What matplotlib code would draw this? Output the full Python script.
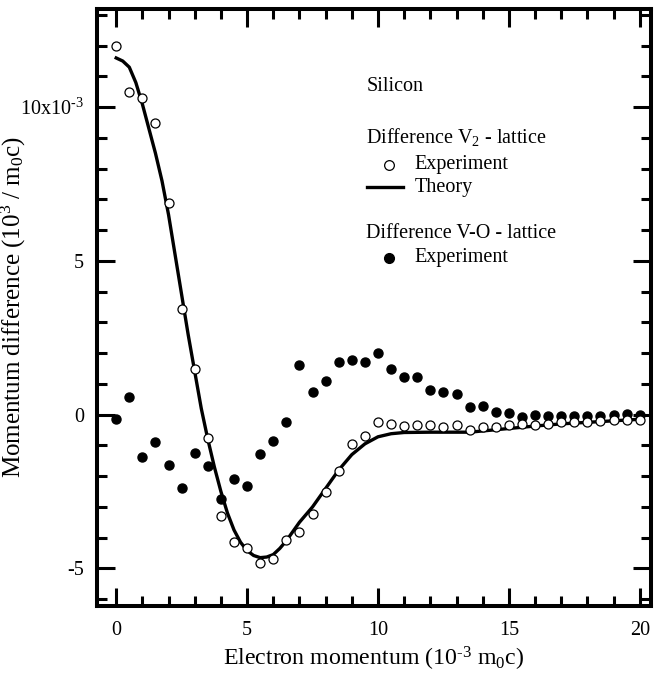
import numpy as np
import matplotlib
matplotlib.use('Agg')
import matplotlib.pyplot as plt
from matplotlib.ticker import MultipleLocator, FixedLocator, FixedFormatter

plt.rcParams['font.family'] = ['Liberation Serif', 'DejaVu Serif']
plt.rcParams['mathtext.fontset'] = 'custom'
plt.rcParams['mathtext.rm'] = 'Liberation Serif'
plt.rcParams['mathtext.it'] = 'Liberation Serif:italic'
plt.rcParams['axes.unicode_minus'] = False

# V2 - lattice, experiment (open circles)
x_v2 = [0, 0.5, 1, 1.5, 2, 2.5, 3, 3.5, 4, 4.5, 5, 5.5, 6, 6.5, 7, 7.5, 8, 8.5, 9, 9.5,
        10, 10.5, 11, 11.5, 12, 12.5, 13, 13.5, 14, 14.5, 15, 15.5, 16, 16.5, 17, 17.5,
        18, 18.5, 19, 19.5, 20]
y_v2 = [12.0, 10.5, 10.3, 9.5, 6.87, 3.42, 1.5, -0.75, -3.29, -4.14, -4.33, -4.82, -4.69,
        -4.07, -3.81, -3.22, -2.5, -1.82, -0.95, -0.68, -0.25, -0.3, -0.36, -0.35, -0.33,
        -0.41, -0.35, -0.51, -0.41, -0.41, -0.35, -0.3, -0.32, -0.3, -0.23, -0.23, -0.23,
        -0.2, -0.16, -0.16, -0.16]

# V-O - lattice, experiment (filled circles)
x_vo = x_v2
y_vo = [-0.13, 0.59, -1.39, -0.89, -1.65, -2.37, -1.25, -1.68, -2.73, -2.08, -2.31, -1.28,
        -0.87, -0.23, 1.6, 0.75, 1.08, 1.72, 1.77, 1.72, 2.02, 1.5, 1.24, 1.24, 0.81, 0.75,
        0.68, 0.26, 0.29, 0.1, 0.06, -0.06, 0.0, -0.03, -0.03, -0.03, -0.03, -0.03, 0.0,
        0.03, 0.0]

# theory curve
x_th = [0, 0.25, 0.5, 0.75, 1, 1.25, 1.5, 1.75, 2, 2.25, 2.5, 2.75, 3, 3.25, 3.5, 3.75,
        4, 4.25, 4.5, 4.75, 5, 5.25, 5.5, 5.75, 6, 6.25, 6.5, 6.75, 7, 7.5, 8, 8.5, 9,
        9.5, 10, 10.5, 11, 12, 13, 13.5, 14, 15, 16, 17, 18, 19, 20]
y_th = [11.6, 11.5, 11.3, 10.8, 10.1, 9.3, 8.5, 7.6, 6.5, 5.2, 3.9, 2.6, 1.4, 0.2, -0.8,
        -1.7, -2.5, -3.2, -3.75, -4.15, -4.42, -4.58, -4.65, -4.63, -4.55, -4.35, -4.1,
        -3.8, -3.5, -3.0, -2.4, -1.8, -1.3, -0.95, -0.72, -0.62, -0.58, -0.57, -0.57,
        -0.57, -0.53, -0.45, -0.37, -0.3, -0.25, -0.2, -0.15]

y_ticks = [-5, 0, 5, 10]
y_ticklabels = ['-5', '0', '5', '10x10$^{\\text{-3}}$']
x_ticks = [0, 5, 10, 15, 20]

fig = plt.figure(figsize=(6.56, 6.74), dpi=100)
ax = fig.add_axes([0.148, 0.101, 0.844, 0.886])

ax.plot(x_th, y_th, color='black', lw=2.4, zorder=2)
ax.plot(x_vo, y_vo, 'o', ms=6.5, color='black', zorder=3)
ax.plot(x_v2, y_v2, 'o', ms=6.5, mfc='white', mec='black', mew=0.9, zorder=4)

ax.set_xlim(-0.73, 20.42)
ax.set_ylim(-6.22, 13.2)
ax.xaxis.set_major_locator(FixedLocator(x_ticks))
ax.xaxis.set_minor_locator(MultipleLocator(1))
ax.yaxis.set_major_locator(FixedLocator(y_ticks))
ax.yaxis.set_major_formatter(FixedFormatter(y_ticklabels))
ax.yaxis.set_minor_locator(MultipleLocator(1))

for s in ax.spines.values():
    s.set_linewidth(2.9)
ax.tick_params(which='both', direction='in', top=True, right=True, width=2.2,
               labelsize=14.5)
ax.tick_params(which='major', length=13)
ax.tick_params(which='minor', length=7)
ax.tick_params(axis='x', pad=11)
ax.tick_params(axis='y', pad=9.5)

ax.set_xlabel('Electron momentum (10$^{\\text{-3}}$ m$_0$c)', fontsize=17.2, labelpad=3)
ax.set_ylabel('Momentum difference (10$^3$ / m$_0$c)', fontsize=18)
ax.yaxis.set_label_coords(-0.125, 0.5)

# legend, drawn by hand
fs = 14.5
ax.text(0.486, 0.869, 'Silicon', transform=ax.transAxes, fontsize=fs, va='center')
ax.text(0.486, 0.786, 'Difference V$_2$ - lattice', transform=ax.transAxes, fontsize=fs,
        va='center')
ax.plot([0.527], [0.739], 'o', ms=7, mfc='white', mec='black', mew=0.9,
        transform=ax.transAxes)
ax.text(0.574, 0.739, 'Experiment', transform=ax.transAxes, fontsize=fs, va='center')
ax.plot([0.487, 0.552], [0.702, 0.702], color='black', lw=2.4, transform=ax.transAxes)
ax.text(0.574, 0.700, 'Theory', transform=ax.transAxes, fontsize=fs, va='center')
ax.text(0.486, 0.623, 'Difference V-O - lattice', transform=ax.transAxes, fontsize=fs,
        va='center')
ax.plot([0.527], [0.583], 'o', ms=7, color='black', transform=ax.transAxes)
ax.text(0.574, 0.583, 'Experiment', transform=ax.transAxes, fontsize=fs, va='center')

fig.savefig('out.png', dpi=100)
